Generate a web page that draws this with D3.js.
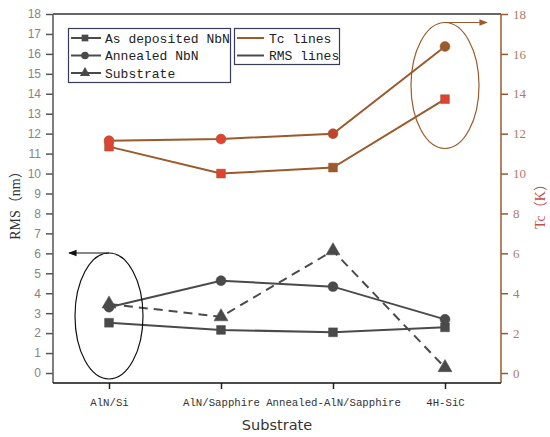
<!DOCTYPE html>
<html><head><meta charset="utf-8">
<script src="https://cdn.jsdelivr.net/npm/d3@7/dist/d3.min.js"></script>
<style>body{margin:0;background:#fff}svg{display:block}</style>
</head><body><svg id="c" width="550" height="437"></svg>
<script>
const categories = ["AlN/Si", "AlN/Sapphire", "Annealed-AlN/Sapphire", "4H-SiC"];
const rmsAsDeposited = [2.52, 2.16, 2.04, 2.29];
const rmsAnnealed = [3.3, 4.63, 4.33, 2.69];
const rmsSubstrate = [3.46, 2.82, 6.13, 0.27];
const tcAnnealed = [11.65, 11.73, 12.0, 16.37];
const tcAsDeposited = [11.35, 10.0, 10.3, 13.73];
const leftTicks = d3.range(0, 19, 1);
const rightTicks = d3.range(0, 19, 2);

const svg = d3.select("#c");
const L = 53, R = 501, T = 14, B = 383;
const x = d3.scalePoint().domain(categories).range([L, R]).padding(0.5);
const yL = d3.scaleLinear().domain([0, 18]).range([373, T]);
const yR = d3.scaleLinear().domain([0, 18]).range([373, T]);

const gray = "#4a4a4a", brown = "#9b5a2c", red = "#dd4433";
const mono = "'Liberation Mono', 'DejaVu Sans Mono', monospace";
const serif = "'Liberation Serif', 'Noto Sans CJK SC', serif";

// frame top
svg.append("line").attr("x1", L).attr("x2", R).attr("y1", T).attr("y2", T).attr("stroke", "#333").attr("stroke-width", 1.5);

// left axis
const gL = svg.append("g").attr("transform", `translate(${L},0)`).call(d3.axisLeft(yL).tickValues(leftTicks).tickSize(7).tickSizeOuter(0).tickPadding(5));
gL.select(".domain").remove();
gL.selectAll(".tick line").attr("stroke", "#555").attr("stroke-width", 1.5);
gL.selectAll(".tick text").attr("fill", "#858585").attr("font-family", "'Liberation Sans', Arial, sans-serif").attr("font-size", 12);
svg.append("line").attr("x1", L).attr("x2", L).attr("y1", T).attr("y2", B).attr("stroke", "#555").attr("stroke-width", 1.5);

// right axis
const gR = svg.append("g").attr("transform", `translate(${R},0)`).call(d3.axisRight(yR).tickValues(rightTicks).tickSize(7).tickSizeOuter(0).tickPadding(5));
gR.select(".domain").remove();
gR.selectAll(".tick line").attr("stroke", brown).attr("stroke-width", 1.5);
gR.selectAll(".tick text").attr("fill", "#b07a66").attr("font-family", serif).attr("font-size", 13);
svg.append("line").attr("x1", R).attr("x2", R).attr("y1", T).attr("y2", B).attr("stroke", brown).attr("stroke-width", 1.5);

// bottom axis
const gB = svg.append("g").attr("transform", `translate(0,${B})`).call(d3.axisBottom(x).tickSize(6).tickSizeOuter(0).tickPadding(9));
gB.select(".domain").remove();
gB.selectAll(".tick line").attr("stroke", "#222").attr("stroke-width", 1.5);
gB.selectAll(".tick text").attr("fill", "#333").attr("font-family", mono).attr("font-size", 10.7);
svg.append("line").attr("x1", L).attr("x2", R).attr("y1", B).attr("y2", B).attr("stroke", "#111").attr("stroke-width", 1.5);

// axis titles
svg.append("text").attr("x", 277).attr("y", 430).attr("text-anchor", "middle").attr("font-family", "'DejaVu Sans', sans-serif").attr("font-size", 14.5).attr("fill", "#333").text("Substrate");
svg.append("text").attr("transform", "translate(20,202) rotate(-90)").attr("text-anchor", "middle").attr("font-family", serif).attr("font-size", 14).attr("fill", "#333").text("RMS（nm）");
svg.append("text").attr("transform", "translate(545,203) rotate(-90)").attr("text-anchor", "middle").attr("font-family", serif).attr("font-size", 14).attr("fill", "#c0504d").text("Tc（K）");

const sym = { square: d3.symbolSquare, circle: d3.symbolCircle, triangle: d3.symbolTriangle };
function series(vals, yS, color, shape, dash, fills) {
  const line = d3.line().x((d, i) => x(categories[i])).y(d => yS(d));
  svg.append("path").datum(vals).attr("d", line).attr("fill", "none").attr("stroke", color).attr("stroke-width", 2).attr("stroke-dasharray", dash || null);
  svg.selectAll(null).data(vals).enter().append("path")
    .attr("transform", (d, i) => `translate(${x(categories[i])},${yS(d)})`)
    .attr("d", d3.symbol().type(sym[shape]).size(shape === "triangle" ? 85 : 78))
    .attr("fill", (d, i) => fills ? fills[i] : color).attr("stroke", color).attr("stroke-width", 0.5);
}

// Tc lines
series(tcAsDeposited, yR, brown, "square", null, [red, red, brown, red]);
series(tcAnnealed, yR, brown, "circle", null, [red, red, "#c0452f", brown]);
// RMS lines
series(rmsSubstrate, yL, gray, "triangle", "9,6");
series(rmsAsDeposited, yL, gray, "square");
series(rmsAnnealed, yL, gray, "circle");

// ellipses and arrows
const defs = svg.append("defs");
function marker(id, color) {
  defs.append("marker").attr("id", id).attr("viewBox", "0 0 10 10").attr("refX", 9).attr("refY", 5)
    .attr("markerWidth", 7).attr("markerHeight", 7).attr("orient", "auto")
    .append("path").attr("d", "M0,1 L10,5 L0,9 Z").attr("fill", color);
}
marker("ab", "#111"); marker("ar", brown);
const e1x = x(categories[0]), e2x = x(categories[3]);
svg.append("ellipse").attr("cx", e1x).attr("cy", 316).attr("rx", 34).attr("ry", 63).attr("fill", "none").attr("stroke", "#111").attr("stroke-width", 1.2);
svg.append("line").attr("x1", e1x).attr("y1", 253).attr("x2", 69).attr("y2", 253).attr("stroke", "#111").attr("stroke-width", 1.2).attr("marker-end", "url(#ab)");
svg.append("ellipse").attr("cx", e2x).attr("cy", 85.5).attr("rx", 34).attr("ry", 63).attr("fill", "none").attr("stroke", brown).attr("stroke-width", 1.2);
svg.append("line").attr("x1", e2x).attr("y1", 22.5).attr("x2", 487).attr("y2", 22.5).attr("stroke", brown).attr("stroke-width", 1.2).attr("marker-end", "url(#ar)");

// legends
const leg1 = [["As deposited NbN", "square"], ["Annealed NbN", "circle"], ["Substrate", "triangle"]];
svg.append("rect").attr("x", 68.5).attr("y", 28.5).attr("width", 162).attr("height", 54).attr("fill", "#fff").attr("stroke", "#3a3a5a").attr("stroke-width", 1.2);
leg1.forEach((d, i) => {
  const yy = 38 + i * 17.5;
  svg.append("line").attr("x1", 71).attr("x2", 101).attr("y1", yy).attr("y2", yy).attr("stroke", gray).attr("stroke-width", 2);
  svg.append("path").attr("transform", `translate(85,${yy})`).attr("d", d3.symbol().type(sym[d[1]]).size(45)).attr("fill", gray);
  svg.append("text").attr("x", 105).attr("y", yy + 4.5).attr("font-family", mono).attr("font-size", 13).attr("fill", "#222").text(d[0]);
});
const leg2 = [["Tc lines", brown], ["RMS lines", gray]];
svg.append("rect").attr("x", 234.5).attr("y", 28.5).attr("width", 105).attr("height", 36).attr("fill", "#fff").attr("stroke", "#3a3a5a").attr("stroke-width", 1.2);
leg2.forEach((d, i) => {
  const yy = 38 + i * 17.5;
  svg.append("line").attr("x1", 237).attr("x2", 264).attr("y1", yy).attr("y2", yy).attr("stroke", d[1]).attr("stroke-width", 2);
  svg.append("text").attr("x", 269).attr("y", yy + 4.5).attr("font-family", mono).attr("font-size", 13).attr("fill", "#222").text(d[0]);
});
</script></body></html>
